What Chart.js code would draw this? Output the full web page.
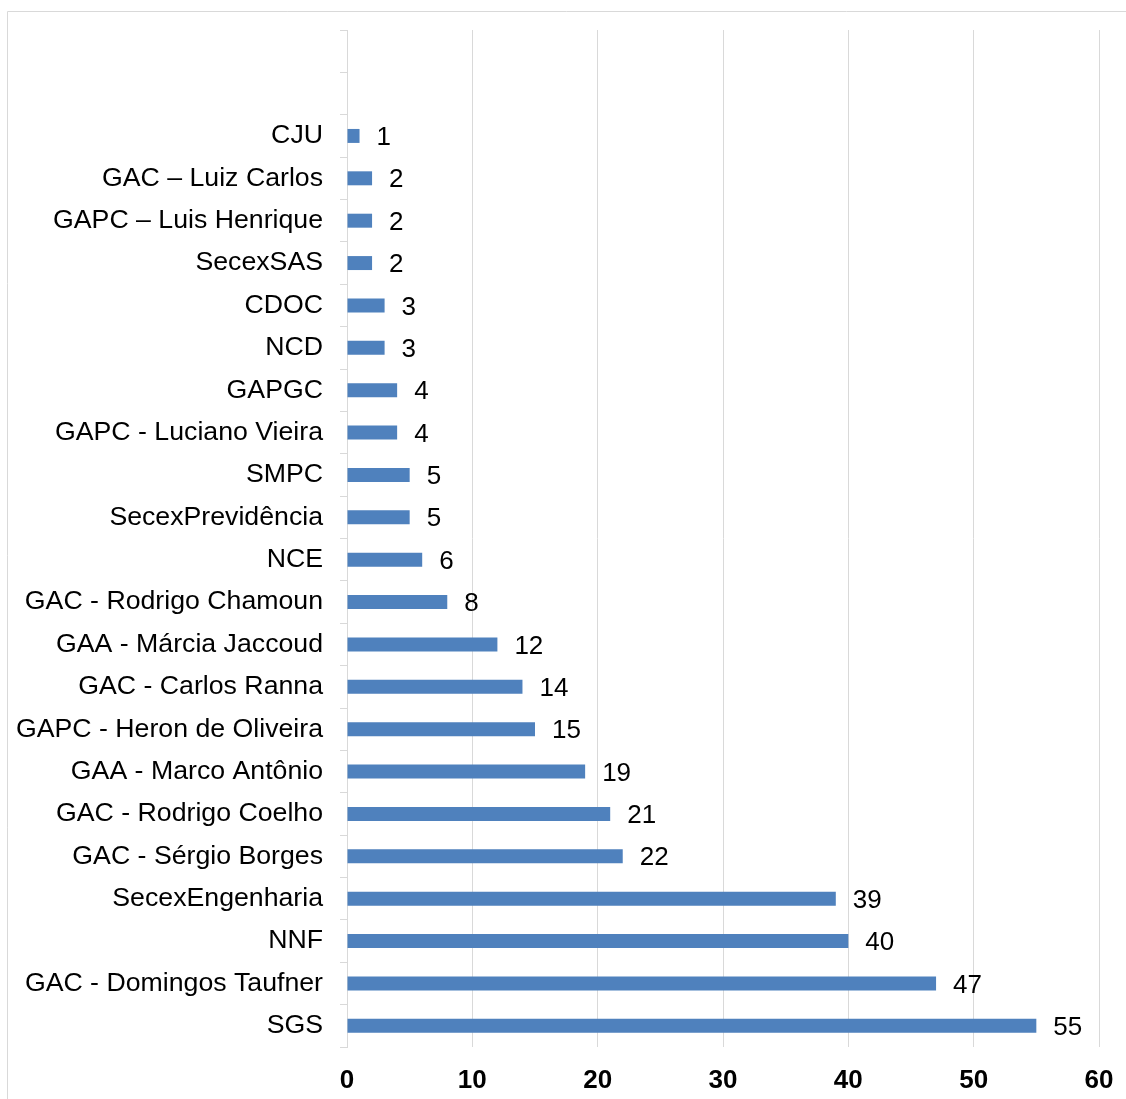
<!DOCTYPE html>
<html>
<head>
<meta charset="utf-8">
<script src="https://cdn.jsdelivr.net/npm/chart.js@4/dist/chart.umd.min.js"></script>
<style>
  html, body { margin: 0; padding: 0; background: #fff; }
  #wrap { width: 1126px; height: 1099px; position: relative; }
</style>
</head>
<body>
<div id="wrap"><canvas id="barChart" width="1126" height="1099"></canvas></div>
<script>
// Categories top to bottom (two empty slots at the top, as in the original)
const categories = [
    "", "",
    "CJU", "GAC – Luiz Carlos", "GAPC – Luis Henrique", "SecexSAS", "CDOC", "NCD",
    "GAPGC", "GAPC - Luciano Vieira", "SMPC", "SecexPrevidência", "NCE",
    "GAC - Rodrigo Chamoun", "GAA - Márcia Jaccoud", "GAC - Carlos Ranna",
    "GAPC - Heron de Oliveira", "GAA - Marco Antônio", "GAC - Rodrigo Coelho",
    "GAC - Sérgio Borges", "SecexEngenharia", "NNF", "GAC - Domingos Taufner", "SGS"
];
const counts = [
    null, null,
    1, 2, 2, 2, 3, 3,
    4, 4, 5, 5, 6,
    8, 12, 14,
    15, 19, 21,
    22, 39, 40, 47, 55
];
const xTicks = [0, 10, 20, 30, 40, 50, 60];

const FONT = "'Liberation Sans', Arial, sans-serif";
const gridGray = "#d9d9d9";

// Draw the value next to each bar
const valueLabels = {
    id: "valueLabels",
    afterDatasetsDraw(chart) {
        const ctx = chart.ctx;
        const meta = chart.getDatasetMeta(0);
        ctx.save();
        ctx.font = "26px " + FONT;
        ctx.fillStyle = "#000";
        ctx.textAlign = "left";
        ctx.textBaseline = "middle";
        meta.data.forEach((bar, i) => {
            const v = counts[i];
            if (v === null) return;
            ctx.fillText(String(v), bar.x + 17, bar.y + 2);
        });
        ctx.restore();
    }
};

// Outer frame line (top and left edges visible)
const frame = {
    id: "frame",
    beforeDraw(chart) {
        const ctx = chart.ctx;
        ctx.save();
        ctx.strokeStyle = gridGray;
        ctx.lineWidth = 1;
        ctx.beginPath();
        ctx.moveTo(7.5, chart.height);
        ctx.lineTo(7.5, 11.5);
        ctx.lineTo(chart.width, 11.5);
        ctx.stroke();
        ctx.restore();
    }
};

const ctx = document.getElementById("barChart").getContext("2d");
new Chart(ctx, {
    type: "bar",
    data: {
        labels: categories,
        datasets: [{
            data: counts,
            backgroundColor: "#4F81BD",
            borderWidth: 0,
            barPercentage: 0.33,
            categoryPercentage: 1.0
        }]
    },
    options: {
        indexAxis: "y",
        responsive: false,
        animation: false,
        layout: { padding: { top: 30, right: 27, left: 0, bottom: 0 } },
        scales: {
            x: {
                min: 0,
                max: 60,
                afterBuildTicks(scale) {
                    scale.ticks = xTicks.map(v => ({ value: v }));
                },
                afterFit(scale) {
                    scale.height = 52;
                    scale.paddingLeft = 0;
                    scale.paddingRight = 0;
                },
                grid: { color: gridGray, lineWidth: 1, drawTicks: false },
                border: { display: false },
                ticks: {
                    color: "#000",
                    padding: 18,
                    font: { family: FONT, size: 26, weight: "bold" }
                }
            },
            y: {
                afterFit(scale) {
                    scale.width = 347;
                    scale.paddingTop = 0;
                    scale.paddingBottom = 0;
                },
                grid: {
                    offset: true,
                    drawOnChartArea: false,
                    drawTicks: true,
                    tickLength: 7,
                    color: gridGray
                },
                border: { display: true, color: gridGray, width: 1 },
                ticks: {
                    color: "#000",
                    padding: 17,
                    autoSkip: false,
                    font: { family: FONT, size: 26.7 }
                }
            }
        },
        plugins: {
            legend: { display: false },
            tooltip: { enabled: false }
        }
    },
    plugins: [frame, valueLabels]
});
</script>
</body>
</html>
